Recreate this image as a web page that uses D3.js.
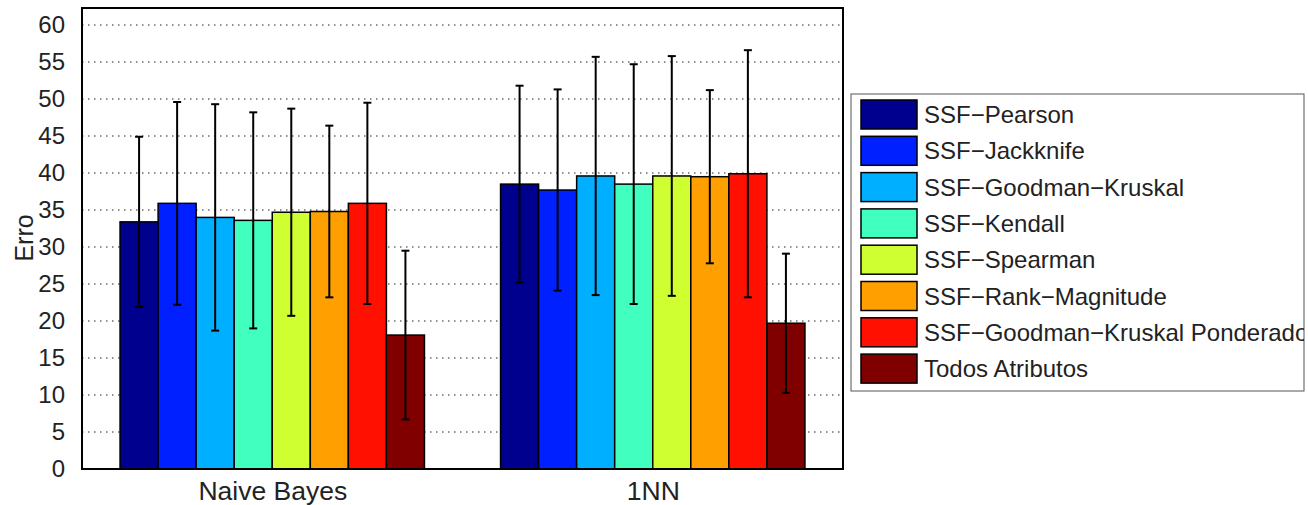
<!DOCTYPE html>
<html>
<head>
<meta charset="utf-8">
<script src="https://cdn.jsdelivr.net/npm/d3@7"></script>
<style>
  body { margin: 0; background: #fff; }
  svg { display: block; font-family: "Liberation Sans", Arial, sans-serif; }
</style>
</head>
<body>
<svg id="chart" width="1308" height="505"></svg>
<script>
// data
var groups = ["Naive Bayes", "1NN"];
var methods = ["SSF\u2212Pearson", "SSF\u2212Jackknife", "SSF\u2212Goodman\u2212Kruskal", "SSF\u2212Kendall",
  "SSF\u2212Spearman", "SSF\u2212Rank\u2212Magnitude", "SSF\u2212Goodman\u2212Kruskal Ponderado", "Todos Atributos"];
var colors = ["#00008f", "#0020ff", "#00afff", "#40ffbf", "#cfff30", "#ff9f00", "#ff1000", "#800000"];
// mean error per group, in method order
var meanNB  = [33.4, 35.9, 34.0, 33.6, 34.7, 34.8, 35.9, 18.1];
var mean1NN = [38.5, 37.7, 39.6, 38.5, 39.6, 39.5, 39.9, 19.7];
// std (error bar half length)
var stdNB  = [11.5, 13.7, 15.3, 14.6, 14.0, 11.6, 13.6, 11.4];
var std1NN = [13.3, 13.6, 16.1, 16.2, 16.2, 11.7, 16.7, 9.4];
var yTicks = d3.range(0, 61, 5);

var svg = d3.select("#chart");
var box = {left: 82, top: 8, right: 843, bottom: 469};

var x = d3.scaleLinear().domain([0.5, 2.5]).range([box.left, box.right]);
var y = d3.scaleLinear().domain([0, 62.3]).range([box.bottom, box.top]);

var groupWidth = 0.8, barW = groupWidth / methods.length;

var rows = [];
[meanNB, mean1NN].forEach(function(means, g) {
  var stds = g === 0 ? stdNB : std1NN;
  means.forEach(function(m, k) {
    rows.push({g: g, k: k, mean: m, std: stds[k]});
  });
});

// grid
svg.append("g").selectAll("line").data(yTicks.filter(function(d) { return d > 0; }))
  .enter().append("line")
  .attr("x1", box.left).attr("x2", box.right)
  .attr("y1", function(d) { return y(d); }).attr("y2", function(d) { return y(d); })
  .attr("stroke", "#222").attr("stroke-width", 1).attr("stroke-dasharray", "1.5,4.5");

// bars
svg.append("g").selectAll("rect").data(rows).enter().append("rect")
  .attr("x", function(d) { return x(d.g + 1 - groupWidth / 2 + d.k * barW); })
  .attr("width", x(barW) - x(0))
  .attr("y", function(d) { return y(d.mean); })
  .attr("height", function(d) { return y(0) - y(d.mean); })
  .attr("fill", function(d) { return colors[d.k]; })
  .attr("stroke", "#000").attr("stroke-width", 1.5);

// error bars
var eb = svg.append("g").attr("stroke", "#000").attr("stroke-width", 2);
rows.forEach(function(d) {
  var cx = x(d.g + 1 - groupWidth / 2 + (d.k + 0.5) * barW);
  eb.append("line").attr("x1", cx).attr("x2", cx)
    .attr("y1", y(d.mean - d.std)).attr("y2", y(d.mean + d.std));
  [d.mean - d.std, d.mean + d.std].forEach(function(v) {
    eb.append("line").attr("x1", cx - 4).attr("x2", cx + 4)
      .attr("y1", y(v)).attr("y2", y(v));
  });
});

// frame
svg.append("rect").attr("x", box.left).attr("y", box.top)
  .attr("width", box.right - box.left).attr("height", box.bottom - box.top)
  .attr("fill", "none").attr("stroke", "#000").attr("stroke-width", 2);

// y axis
var yAxis = svg.append("g").attr("transform", "translate(" + box.left + ",0)")
  .call(d3.axisLeft(y).tickValues(yTicks).tickSize(0).tickPadding(17));
yAxis.select(".domain").remove();
yAxis.selectAll("text").attr("font-size", 24).attr("fill", "#222")
  .attr("font-family", "Liberation Sans, Arial, sans-serif");

// x axis labels
var xAxis = svg.append("g").attr("transform", "translate(0," + box.bottom + ")")
  .call(d3.axisBottom(x).tickValues([1, 2]).tickFormat(function(d) { return groups[d - 1]; })
    .tickSize(0).tickPadding(12));
xAxis.select(".domain").remove();
xAxis.selectAll("text").attr("font-size", 26.5).attr("fill", "#222")
  .attr("font-family", "Liberation Sans, Arial, sans-serif");

svg.append("text").attr("transform", "translate(33,238) rotate(-90)")
  .attr("text-anchor", "middle").attr("font-size", 25).attr("fill", "#222").text("Erro");

// legend
var lg = {x: 851, y: 94, w: 453, h: 297};
svg.append("clipPath").attr("id", "lgclip").append("rect")
  .attr("x", lg.x).attr("y", lg.y).attr("width", lg.w).attr("height", lg.h);
svg.append("rect").attr("x", lg.x).attr("y", lg.y).attr("width", lg.w).attr("height", lg.h)
  .attr("fill", "#fff").attr("stroke", "#555").attr("stroke-width", 1);
var items = svg.append("g").attr("clip-path", "url(#lgclip)")
  .selectAll("g").data(methods).enter().append("g")
  .attr("transform", function(d, i) { return "translate(" + (lg.x + 10) + "," + (lg.y + 6 + i * 36.3) + ")"; });
items.append("rect").attr("width", 56).attr("height", 29)
  .attr("fill", function(d, i) { return colors[i]; })
  .attr("stroke", "#000").attr("stroke-width", 1.5);
items.append("text").attr("x", 63).attr("y", 14.5).attr("dy", "0.36em")
  .attr("font-size", 24).attr("fill", "#222").text(function(d) { return d; });
</script>
</body>
</html>
